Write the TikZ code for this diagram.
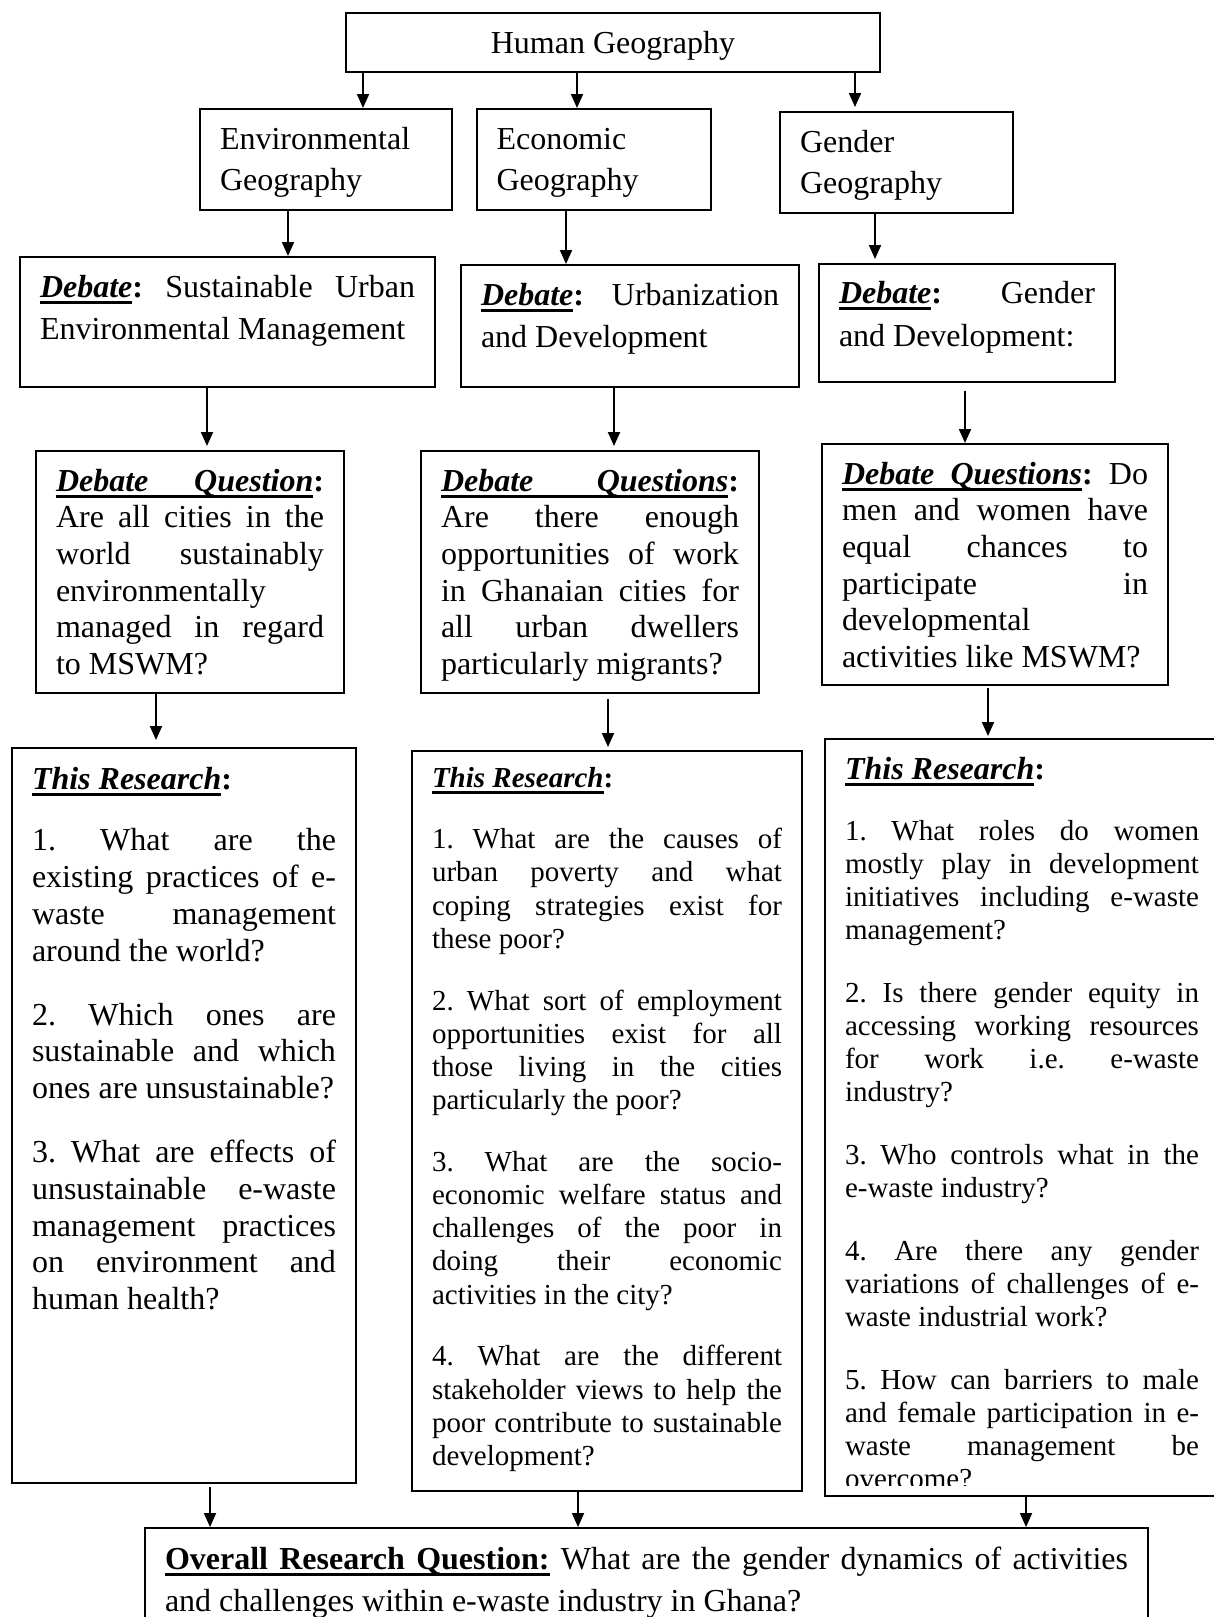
\documentclass[tikz,border=0pt]{standalone}
\usepackage{fontspec}
\setmainfont{Liberation Serif}
\usetikzlibrary{arrows.meta}

% thick underline for a word, and an underlined stretchable space
\newcommand{\ulword}[1]{\setbox0=\hbox{#1}\rlap{\rule[-6.5pt]{\wd0}{3pt}}\box0}
\newcommand{\ulspace}{\leaders\vrule height -3.5pt depth 6.5pt\hskip\fontdimen2\font plus\fontdimen3\font minus\fontdimen4\font}

% text block of a box: [first baseline]{width}{height}{size}{skip}{text}
\newcommand{\cell}[6][40pt]{\parbox[t][#3][t]{#2}{\frenchspacing\fontsize{#4}{#5}\selectfont\rule{0pt}{#1}#6}}

\begin{document}
\begin{tikzpicture}[x=1pt, y=-1pt,
        box/.style={draw, line width=2pt, inner sep=0pt, anchor=north west},
        arr/.style={-{Triangle[length=14pt,width=12pt]}, line width=2pt}]
        \useasboundingbox (0,0) rectangle (1214,1617);

        % top
        \node[box, minimum width=534pt, minimum height=59pt] (hg) at (345,12)
            {\cell{494pt}{59pt}{32}{40}{\centering Human Geography}};

        % branches
        \node[box, minimum width=252pt, minimum height=101pt] (eg) at (199,108)
            {\cell{212pt}{101pt}{32}{41.7}{\raggedright Environmental\\Geography}};
        \node[box, minimum width=234pt, minimum height=101pt] (ecg) at (475.5,108)
            {\cell{194pt}{101pt}{32}{41.7}{\raggedright Economic\\Geography}};
        \node[box, minimum width=233pt, minimum height=101pt] (gg) at (779,111)
            {\cell{193pt}{101pt}{32}{41.7}{\raggedright Gender\\Geography}};

        % debates
        \node[box, minimum width=415pt, minimum height=130pt] (d1) at (19,256)
            {\cell{375pt}{130pt}{32}{42.3}{{\bfseries\itshape\ulword{Debate}}\textbf{:} Sustainable Urban\linebreak Environmental Management}};
        \node[box, minimum width=338pt, minimum height=122pt] (d2) at (460,264)
            {\cell{298pt}{122pt}{32}{42.3}{{\bfseries\itshape\ulword{Debate}}\textbf{:} Urbanization\linebreak and Development}};
        \node[box, minimum width=296pt, minimum height=118pt] (d3) at (818,263)
            {\cell[39pt]{256pt}{118pt}{32}{43}{{\bfseries\itshape\ulword{Debate}}\textbf{:} Gender\linebreak and Development:}};

        % debate questions
        \node[box, minimum width=308pt, minimum height=242pt] (dq1) at (35,450)
            {\cell{268pt}{242pt}{32}{36.7}{{\bfseries\itshape\ulword{Debate}\ulspace\ulword{Question}}\textbf{:}\linebreak
            Are all cities in the\linebreak world sustainably\linebreak environmentally\linebreak managed in regard\linebreak to MSWM?}};
        \node[box, minimum width=338pt, minimum height=242pt] (dq2) at (420,450)
            {\cell{298pt}{242pt}{32}{36.7}{{\bfseries\itshape\ulword{Debate}\ulspace\ulword{Questions}}\textbf{:}\linebreak
            Are there enough\linebreak opportunities of work\linebreak in Ghanaian cities for\linebreak all urban dwellers\linebreak particularly migrants?}};
        \node[box, minimum width=346pt, minimum height=241pt] (dq3) at (821,443)
            {\cell{306pt}{241pt}{32}{36.7}{{\bfseries\itshape\ulword{Debate}\ulspace\ulword{Questions}}\textbf{:} Do\linebreak
            men and women have\linebreak equal chances to\linebreak participate in\linebreak developmental\linebreak activities like MSWM?}};

        % this research
        \node[box, minimum width=344pt, minimum height=735pt] (r1) at (11,747)
            {\cell[41pt]{304pt}{735pt}{32}{36.8}{\setlength{\parskip}{27pt}%
            {\bfseries\itshape\ulword{This Research}}\textbf{:}\par\vspace{-2pt}
            1. What are the\linebreak existing practices of e-\linebreak waste management\linebreak around the world?\par
            2. Which ones are\linebreak sustainable and which\linebreak ones are unsustainable?\par
            3. What are effects of\linebreak unsustainable e-waste\linebreak management practices\linebreak on environment and\linebreak human health?}};
        \node[box, minimum width=390pt, minimum height=740pt] (r2) at (411,750)
            {\cell[36pt]{350pt}{740pt}{29}{33.2}{\setlength{\parskip}{28.5pt}%
            {\bfseries\itshape\ulword{This Research}}\textbf{:}\par
            1. What are the causes of\linebreak urban poverty and what\linebreak coping strategies exist for\linebreak these poor?\par
            2. What sort of employment\linebreak opportunities exist for all\linebreak those living in the cities\linebreak particularly the poor?\par
            3. What are the socio-\linebreak economic welfare status and\linebreak challenges of the poor in\linebreak doing their economic\linebreak activities in the city?\par
            4. What are the different\linebreak stakeholder views to help the\linebreak poor contribute to sustainable\linebreak development?}};
        \node[box, minimum width=394pt, minimum height=757pt] (r3) at (824,738) {};
        \begin{scope}
            \clip (r3.north west) rectangle ([yshift=12pt]r3.south east);
            \node[box, draw=none, minimum width=394pt, minimum height=757pt] (r3text) at (824,738)
                {\cell{354pt}{757pt}{29}{33}{\setlength{\parskip}{30pt}%
                {\fontsize{32}{33}\selectfont{\bfseries\itshape\ulword{This Research}}\textbf{:}}\par\vspace{-2pt}
                1. What roles do women\linebreak mostly play in development\linebreak initiatives including e-waste\linebreak management?\par
                2. Is there gender equity in\linebreak accessing working resources\linebreak for work i.e. e-waste\linebreak industry?\par
                3. Who controls what in the\linebreak e-waste industry?\par
                4. Are there any gender\linebreak variations of challenges of e-\linebreak waste industrial work?\par
                5. How can barriers to male\linebreak and female participation in e-\linebreak waste management be\linebreak overcome?}};
        \end{scope}

        % overall question
        \node[box, minimum width=1003pt, minimum height=115pt] (ov) at (144,1527)
            {\cell[41pt]{963pt}{115pt}{32}{42}{{\bfseries\ulword{Overall}\ulspace\ulword{Research}\ulspace\ulword{Question:}} What are the gender dynamics of activities\linebreak
            and challenges within e-waste industry in Ghana?}};

        % arrows
        \draw[arr] (hg.south -| 363,0) -- (eg.north -| 363,0);
        \draw[arr] (hg.south -| 577,0) -- (ecg.north -| 577,0);
        \draw[arr, shorten >=4pt] (hg.south -| 855,0) -- (gg.north -| 855,0);
        \draw[arr] (eg.south -| 288,0) -- (d1.north -| 288,0);
        \draw[arr] (ecg.south -| 566,0) -- (d2.north -| 566,0);
        \draw[arr, shorten >=4pt] (gg.south -| 875,0) -- (d3.north -| 875,0);
        \draw[arr, shorten >=4pt] (d1.south -| 207,0) -- (dq1.north -| 207,0);
        \draw[arr, shorten >=4pt] (d2.south -| 614,0) -- (dq2.north -| 614,0);
        \draw[arr, shorten <=8pt] (d3.south -| 965,0) -- (dq3.north -| 965,0);
        \draw[arr, shorten >=7pt] (dq1.south -| 156,0) -- (r1.north -| 156,0);
        \draw[arr, shorten <=5pt, shorten >=3pt] (dq2.south -| 608,0) -- (r2.north -| 608,0);
        \draw[arr, shorten <=2pt, shorten >=2pt] (dq3.south -| 988,0) -- (r3.north -| 988,0);
        \draw[arr, shorten <=3pt] (r1.south -| 210,0) -- (ov.north -| 210,0);
        \draw[arr] (r2.south -| 578,0) -- (ov.north -| 578,0);
        \draw[arr] (r3.south -| 1026,0) -- (ov.north -| 1026,0);

\end{tikzpicture}
\end{document}
